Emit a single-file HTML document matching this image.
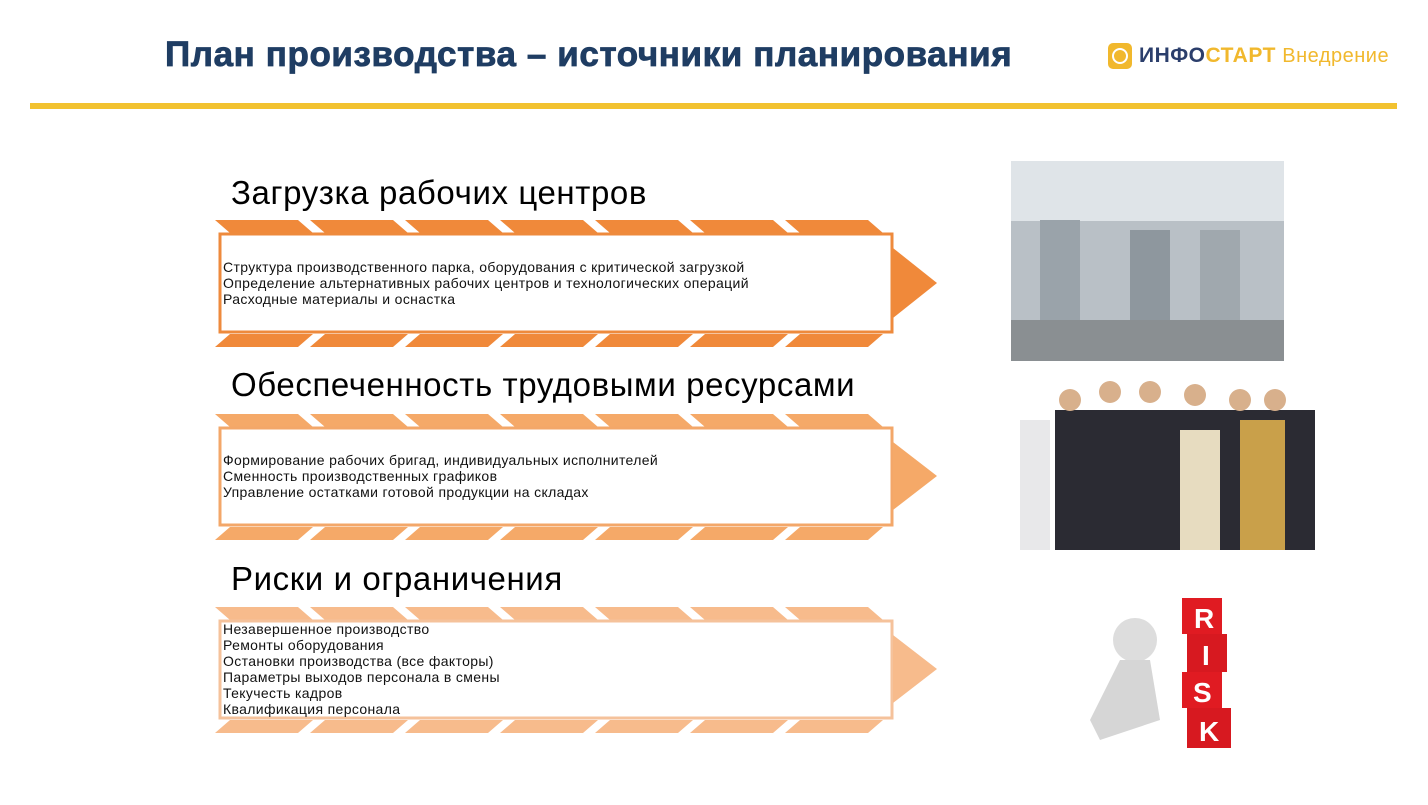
<!DOCTYPE html>
<html><head><meta charset="utf-8"><style>
body{margin:0;width:1428px;height:805px;background:#fff;overflow:hidden;font-family:"Liberation Sans",Arial,sans-serif;position:relative}
.t{position:absolute;white-space:nowrap}
.b{font-size:14px;letter-spacing:0.35px;line-height:16px;color:#111}
</style></head><body>
<div class="t" style="left:165px;top:35px;font-size:35px;font-weight:bold;color:#1f3d63;letter-spacing:0.6px;-webkit-text-stroke:0.8px #1f3d63">План производства – источники планирования</div>
<div class="t" style="left:1108px;top:43px;width:24px;height:26px;background:#f1b82d;border-radius:5px"></div>
<div class="t" style="left:1112px;top:48px;width:12px;height:12px;border:2px solid #fff;border-radius:50%"></div>
<div class="t" style="left:1139px;top:44px;font-size:21px;font-weight:bold;color:#2b3e6b;letter-spacing:0.5px">ИНФО<span style="color:#f1b82d">СТАРТ</span> <span style="font-weight:normal;color:#f1b82d;font-size:20px">Внедрение</span></div>
<div class="t" style="left:30px;top:103px;width:1367px;height:6px;background:#f2c230"></div>

<svg width="1428" height="805" style="position:absolute;left:0;top:0">
<defs>
<g id="row">
<polygon points="0,0 83,0 98,13 15,13"/>
<polygon points="95,0 178,0 193,13 110,13"/>
<polygon points="190,0 273,0 288,13 205,13"/>
<polygon points="285,0 368,0 383,13 300,13"/>
<polygon points="380,0 463,0 478,13 395,13"/>
<polygon points="475,0 558,0 573,13 490,13"/>
<polygon points="570,0 653,0 668,13 585,13"/>
</g>
<g id="rowb">
<polygon points="15,0 98,0 83,13 0,13"/>
<polygon points="110,0 193,0 178,13 95,13"/>
<polygon points="205,0 288,0 273,13 190,13"/>
<polygon points="300,0 383,0 368,13 285,13"/>
<polygon points="395,0 478,0 463,13 380,13"/>
<polygon points="490,0 573,0 558,13 475,13"/>
<polygon points="585,0 668,0 653,13 570,13"/>
</g>
</defs>
<g fill="#f0893a">
<use href="#row" x="215" y="220"/><use href="#rowb" x="215" y="334"/>
<rect x="220" y="234" width="672" height="98" fill="#fff" stroke="#ee8a3c" stroke-width="3"/>
<polygon points="893,248 937,283 893,318"/>
</g>
<g fill="#f5a968">
<use href="#row" x="215" y="414"/><use href="#rowb" x="215" y="527"/>
<rect x="220" y="428" width="672" height="97" fill="#fff" stroke="#f3a769" stroke-width="3"/>
<polygon points="893,442 937,476 893,510"/>
</g>
<g fill="#f7bb8c">
<use href="#row" x="215" y="607"/><use href="#rowb" x="215" y="720"/>
<rect x="220" y="621" width="672" height="97" fill="#fff" stroke="#f5c29b" stroke-width="3"/>
<polygon points="893,635 937,669 893,703"/>
</g>
<rect x="1011" y="161" width="273" height="200" fill="#b9c0c6"/>
<rect x="1011" y="161" width="273" height="60" fill="#dfe4e8"/>
<rect x="1040" y="220" width="40" height="110" fill="#9aa3aa"/>
<rect x="1130" y="230" width="40" height="100" fill="#8e979e"/>
<rect x="1200" y="230" width="40" height="110" fill="#a0a8ae"/>
<rect x="1011" y="320" width="273" height="41" fill="#8a8f92"/>
<g fill="#2b2b33">
<rect x="1020" y="420" width="30" height="130" fill="#e8e8ea"/>
<rect x="1055" y="410" width="260" height="140"/>
<rect x="1180" y="430" width="40" height="120" fill="#e7dcc0"/>
<rect x="1240" y="420" width="45" height="130" fill="#c9a04a"/>
<circle cx="1070" cy="400" r="11" fill="#d8b08c"/><circle cx="1110" cy="392" r="11" fill="#d8b08c"/>
<circle cx="1150" cy="392" r="11" fill="#d8b08c"/><circle cx="1195" cy="395" r="11" fill="#d8b08c"/>
<circle cx="1240" cy="400" r="11" fill="#d8b08c"/><circle cx="1275" cy="400" r="11" fill="#d8b08c"/>
</g>
<g>
<rect x="1182" y="598" width="40" height="36" fill="#e01b22"/>
<rect x="1187" y="634" width="40" height="38" fill="#d71920"/>
<rect x="1182" y="672" width="40" height="36" fill="#e01b22"/>
<rect x="1187" y="708" width="44" height="40" fill="#d71920"/>
<text x="1194" y="628" fill="#fff" font-size="28" font-weight="bold" font-family="Liberation Sans">R</text>
<text x="1202" y="665" fill="#fff" font-size="28" font-weight="bold" font-family="Liberation Sans">I</text>
<text x="1193" y="702" fill="#fff" font-size="28" font-weight="bold" font-family="Liberation Sans">S</text>
<text x="1199" y="741" fill="#fff" font-size="28" font-weight="bold" font-family="Liberation Sans">K</text>
<circle cx="1135" cy="640" r="22" fill="#ddd"/>
<path d="M1120 660 L1150 660 L1160 720 L1100 740 L1090 720 Z" fill="#d6d6d6"/>
</g>
</svg>

<div class="t" style="left:231px;top:174px;font-size:33px;letter-spacing:0.6px;color:#000">Загрузка рабочих центров</div>
<div class="t" style="left:231px;top:366px;font-size:33px;letter-spacing:0.6px;color:#000">Обеспеченность трудовыми ресурсами</div>
<div class="t" style="left:231px;top:560px;font-size:33px;letter-spacing:0.6px;color:#000">Риски и ограничения</div>

<div class="t b" style="left:223px;top:259px">Структура производственного парка, оборудования с критической загрузкой<br>Определение альтернативных рабочих центров и технологических операций<br>Расходные материалы и оснастка</div>
<div class="t b" style="left:223px;top:452px">Формирование рабочих бригад, индивидуальных исполнителей<br>Сменность производственных графиков<br>Управление остатками готовой продукции на складах</div>
<div class="t b" style="left:223px;top:621px">Незавершенное производство<br>Ремонты оборудования<br>Остановки производства (все факторы)<br>Параметры выходов персонала в смены<br>Текучесть кадров<br>Квалификация персонала</div>
</body></html>
